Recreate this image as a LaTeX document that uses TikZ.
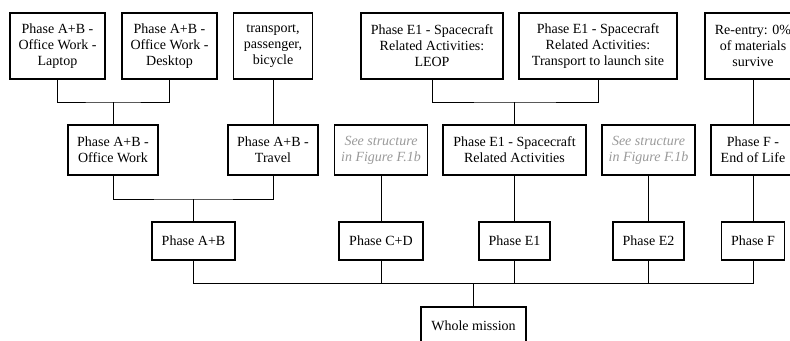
\documentclass[tikz,border=0pt]{standalone}
\usepackage{fontspec}
\setmainfont{Liberation Serif}
\usepackage{xcolor}
\usepackage{tikz}
\definecolor{refgray}{HTML}{9A9A9A}

\tikzset{
  box/.style={draw, line width=1.1pt, align=center, inner sep=1pt, fill=white,
    font=\fontsize{10.5pt}{12pt}\selectfont},
  leaf/.style={box, minimum height=49.5pt},
  mid/.style={box, minimum height=37.5pt},
  phase/.style={box, minimum height=28.5pt},
  seeref/.style={mid, draw=black, text=refgray, font=\fontsize{10.5pt}{12pt}\selectfont\itshape},
  link/.style={line width=0.7pt}
}

\begin{document}
\begin{tikzpicture}[x={(0.75pt,0)}, y={(0,-0.75pt)}]
  \useasboundingbox (0,0) rectangle (790,340);
  % junction rows of the tree
  \coordinate (j1) at (0,102);
  \coordinate (j2) at (0,199);
  \coordinate (j3) at (0,283);

  % top row
  \node[leaf, minimum width=71.25pt] (laptop) at (57.5,46) {Phase A+B -\\Office Work -\\Laptop};
  \node[leaf, minimum width=71.25pt] (desktop) at (169.5,46) {Phase A+B -\\Office Work -\\Desktop};
  \node[leaf, minimum width=59.25pt] (transport) at (273,46) {transport,\\passenger,\\bicycle};
  \node[leaf, minimum width=106.5pt] (leop) at (432,46) {Phase E1 - Spacecraft\\Related Activities:\\LEOP};
  \node[leaf, minimum width=118.5pt] (launch) at (598,46) {Phase E1 - Spacecraft\\Related Activities:\\Transport to launch site};
  \node[leaf, minimum width=72pt] (reentry) at (753,46) {Re-entry: 0\%\\of materials\\survive};

  % middle row
  \node[mid, minimum width=67.5pt] (office) at (113,150) {Phase A+B -\\Office Work};
  \node[mid, minimum width=67.5pt] (travel) at (273,150) {Phase A+B -\\Travel};
  \node[seeref, minimum width=69.75pt] (seecd) at (381,150) {See structure\\in Figure F.1b};
  \node[mid, minimum width=107.25pt] (scact) at (514.5,150) {Phase E1 - Spacecraft\\Related Activities};
  \node[seeref, minimum width=69.75pt] (seee2) at (648.5,150) {See structure\\in Figure F.1b};
  \node[mid, minimum width=63pt] (eol) at (753,150) {Phase F -\\End of Life};

  % phases
  \node[phase, minimum width=62.25pt] (ab) at (193.5,241) {Phase A+B};
  \node[phase, minimum width=63pt] (cd) at (381,241) {Phase C+D};
  \node[phase, minimum width=53.25pt] (eone) at (514.5,241) {Phase E1};
  \node[phase, minimum width=53.25pt] (etwo) at (648.5,241) {Phase E2};
  \node[phase, minimum width=47.25pt] (ff) at (753,241) {Phase F};

  \node[phase, minimum width=78.75pt] (whole) at (473.5,326) {Whole mission};

  % connectors
  \draw[link] (laptop.south) |- (j1 -| office) -| (desktop.south);
  \draw[link] (j1 -| office) -- (office.north);
  \draw[link] (leop.south) |- (j1 -| scact) -| (launch.south);
  \draw[link] (j1 -| scact) -- (scact.north);
  \foreach \a/\b in {transport/travel, reentry/eol, seecd/cd, scact/eone, seee2/etwo, eol/ff}
    \draw[link] (\a.south) -- (\b.north);

  \draw[link] (office.south) |- (j2 -| ab) -| (travel.south);
  \draw[link] (j2 -| ab) -- (ab.north);

  \draw[link] (ab.south) |- (j3 -| ff) -- (ff.south);
  \foreach \p in {cd, eone, etwo}
    \draw[link] (\p.south) -- (j3 -| \p);
  \draw[link] (j3 -| whole) -- (whole.north);
\end{tikzpicture}
\end{document}
